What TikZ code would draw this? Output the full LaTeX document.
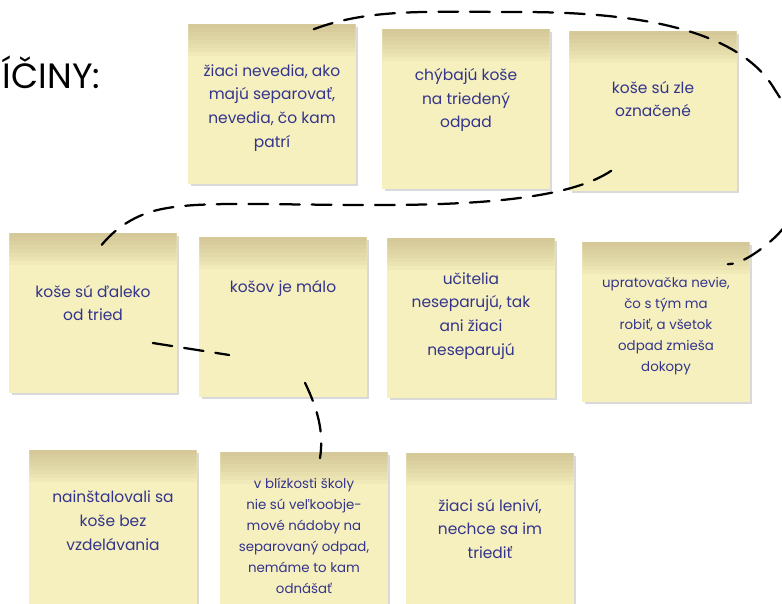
\documentclass[tikz,border=0pt]{standalone}
\usepackage{fontspec}
\setmainfont{Poppins}
\usetikzlibrary{shadows}
\definecolor{notepaper}{RGB}{245,240,190}
\definecolor{notetop}{RGB}{190,172,125}
\definecolor{ink}{RGB}{52,52,140}
\tikzstyle{note} = [rectangle, fill=notepaper, minimum width=4.175cm, minimum height=3.975cm, inner sep=0pt,
    drop shadow={shadow xshift=2pt, shadow yshift=-2pt, opacity=0.3},
    path picture={\foreach \k in {1,...,8}
        \fill[notetop, opacity=0.09] (path picture bounding box.north west) rectangle ([yshift=-\k*0.1cm]path picture bounding box.north east);}]
\tikzstyle{memo} = [text=ink, align=center, font=\fontsize{11}{17}\selectfont]
\tikzstyle{smallmemo} = [memo, font=\fontsize{9.5}{15}\selectfont]
\tikzstyle{dashline} = [draw, line width=1.6pt, dash pattern=on 14pt off 8.5pt, line cap=round]
\begin{document}
\begin{tikzpicture}[x=0.025cm, y=-0.025cm]
    \useasboundingbox (0,0) rectangle (782,604);
    \clip (0,0) rectangle (782,604);
      \node[anchor=base west, font=\fontsize{25}{28}\selectfont] (priciny) at (-2,89) {ÍČINY:};

      % prvy rad
      \node [note] (nevedia) at (272,104) {};
      \node [note] (chybajuKose) at (466,109) {};
      \node [note] (zleOznacene) at (653,111) {};
      \node [memo] (nevediaText) at (272,108) {žiaci nevedia, ako\\majú separovať,\\nevedia, čo kam\\patrí};
      \node [memo] (chybajuKoseText) at (466,100) {chýbajú koše\\na triedený\\odpad};
      \node [memo] (zleOznaceneText) at (653,99) {koše sú zle\\označené};

      % druhy rad
      \node [note] (daleko) at (93,313) {};
      \node [note] (malo) at (283,317) {};
      \node [note] (ucitelia) at (471,318) {};
      \node [note] (upratovacka) at (666,322) {};
      \node [memo] (dalekoText) at (93,303) {koše sú ďaleko\\od tried};
      \node [memo] (maloText) at (283,288) {košov je málo};
      \node [memo] (uciteliaText) at (471,316) {učitelia\\neseparujú, tak\\ani žiaci\\neseparujú};
      \node [smallmemo] (upratovackaText) at (666,326) {upratovačka nevie,\\čo s tým ma\\robiť, a všetok\\odpad zmieša\\dokopy};

      % treti rad
      \node [note] (bezVzdelavania) at (113,530) {};
      \node [note] (nadoby) at (304,532) {};
      \node [note] (lenivi) at (490,533) {};
      \node [memo] (bezVzdelavaniaText) at (113,521) {nainštalovali sa\\koše bez\\vzdelávania};
      \node [smallmemo] (nadobyText) at (304,536) {v blízkosti školy\\nie sú veľkoobje-\\mové nádoby na\\separovaný odpad,\\nemáme to kam\\odnášať};
      \node [memo] (leniviText) at (490,529) {žiaci sú leniví,\\nechce sa im\\triediť};

      % skupiny
      \path [dashline] ([shift={(-42,5)}]nevedia.north east) .. controls (370,8) and (430,12) .. (520,12)
          .. controls (640,12) and (740,30) .. (775,90) .. controls (812,145) and (812,205) .. (772,240)
          .. controls (756,254) and (740,264) .. ([shift={(-22,22)}]upratovacka.north east);
      \path [dashline] ([shift={(42,-20)}]zleOznacene.south west) .. controls (575,195) and (500,205) .. (380,205)
          .. controls (250,205) and (190,200) .. (150,212) .. controls (120,222) and (105,240) .. ([shift={(3,19)}]daleko.north);
      \path [dashline] ([shift={(-24,30)}]daleko.east) -- ([shift={(30,38)}]malo.west);
      \path [dashline] ([shift={(22,-14)}]malo.south) .. controls (318,410) and (324,432) .. ([shift={(16,6)}]nadoby.north);
\end{tikzpicture}
\end{document}
